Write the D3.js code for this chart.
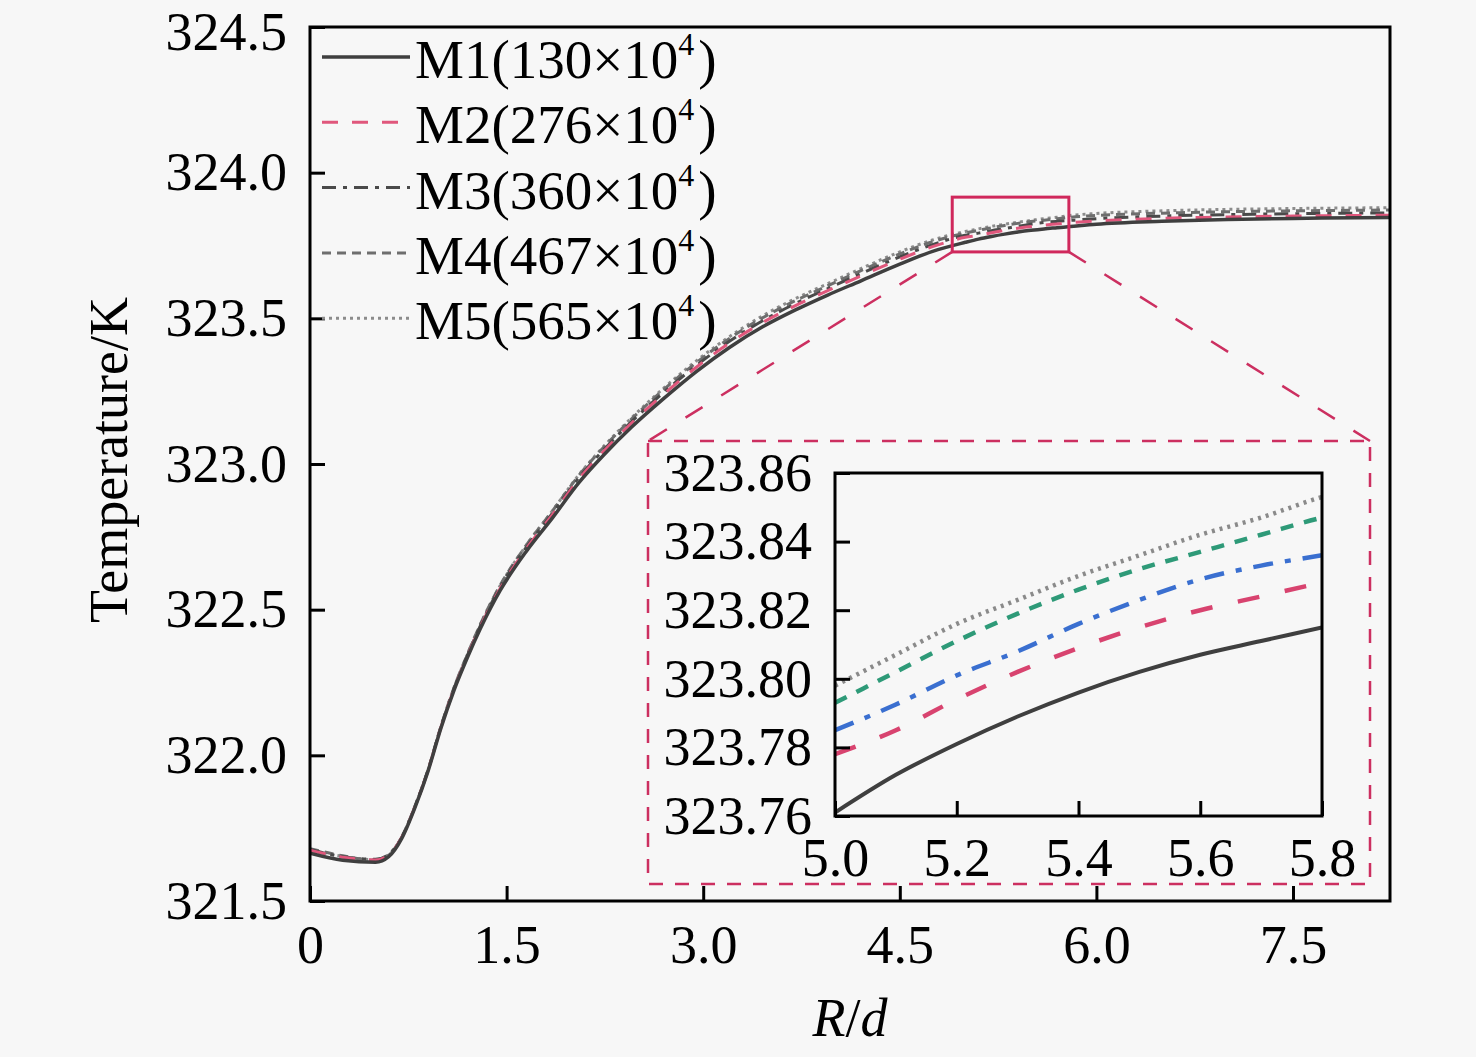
<!DOCTYPE html>
<html>
<head>
<meta charset="utf-8">
<script src="https://cdn.jsdelivr.net/npm/d3@7"></script>
<style>
  body { margin: 0; background: #f7f7f7; }
  svg { display: block; font-family: "Liberation Serif", "Times New Roman", serif; }
</style>
</head>
<body>
<div id="viz"></div>
<script>
// x positions (R/d) shared by every mesh
const rd = [0, 0.25, 0.5, 0.6, 0.7, 0.8, 0.9, 1.0, 1.1, 1.2, 1.3, 1.45, 1.65, 1.85, 2.05, 2.25, 2.45, 2.7, 2.95, 3.2,
  3.45, 3.7, 3.95, 4.2, 4.5, 4.75, 5.0, 5.1, 5.2, 5.3, 5.4, 5.5, 5.6, 5.7, 5.8, 6.0, 6.5, 7.0, 7.5, 8.0, 8.25];

// temperature (K) for each mesh
const m1 = [321.664, 321.640, 321.633, 321.652, 321.715, 321.820, 321.945, 322.095, 322.225, 322.335, 322.435, 322.565, 322.700, 322.815, 322.935, 323.035, 323.125, 323.225, 323.318, 323.400,
  323.470, 323.528, 323.580, 323.628, 323.686, 323.730, 323.761, 323.772, 323.781, 323.789, 323.796, 323.802, 323.807, 323.811, 323.815, 323.823, 323.833, 323.839, 323.843, 323.845, 323.846];
const m2 = [321.674, 321.650, 321.641, 321.658, 321.718, 321.822, 321.947, 322.097, 322.228, 322.339, 322.441, 322.572, 322.709, 322.826, 322.947, 323.048, 323.139, 323.240, 323.333, 323.415,
  323.485, 323.543, 323.595, 323.645, 323.703, 323.746, 323.778, 323.785, 323.794, 323.802, 323.809, 323.815, 323.820, 323.824, 323.828, 323.834, 323.843, 323.848, 323.851, 323.853, 323.854];
const m3 = [321.677, 321.652, 321.643, 321.660, 321.719, 321.823, 321.948, 322.099, 322.231, 322.342, 322.445, 322.577, 322.714, 322.831, 322.952, 323.053, 323.144, 323.246, 323.339, 323.421,
  323.491, 323.550, 323.602, 323.653, 323.711, 323.753, 323.785, 323.7925, 323.801, 323.808, 323.816, 323.823, 323.829, 323.833, 323.836, 323.842, 323.851, 323.856, 323.859, 323.861, 323.862];
const m4 = [321.680, 321.655, 321.640, 321.657, 321.720, 321.825, 321.950, 322.101, 322.234, 322.346, 322.450, 322.583, 322.721, 322.839, 322.960, 323.062, 323.153, 323.256, 323.349, 323.431,
  323.501, 323.560, 323.612, 323.663, 323.721, 323.763, 323.793, 323.802, 323.811, 323.819, 323.826, 323.832, 323.837, 323.842, 323.847, 323.853, 323.861, 323.866, 323.869, 323.871, 323.872];
const m5 = [321.676, 321.653, 321.642, 321.659, 321.719, 321.824, 321.949, 322.100, 322.233, 322.345, 322.449, 322.582, 322.721, 322.840, 322.962, 323.065, 323.157, 323.261, 323.355, 323.437,
  323.508, 323.567, 323.619, 323.670, 323.728, 323.769, 323.798, 323.807, 323.816, 323.823, 323.830, 323.836, 323.842, 323.847, 323.853, 323.860, 323.869, 323.874, 323.877, 323.879, 323.880];

const meshNames = ["M1", "M2", "M3", "M4", "M5"];
const meshCells = ["130", "276", "360", "467", "565"];

// tick labels
const xTicks = [0, 1.5, 3.0, 4.5, 6.0, 7.5];
const yTicks = [321.5, 322.0, 322.5, 323.0, 323.5, 324.0, 324.5];
const insetXTicks = [5.0, 5.2, 5.4, 5.6, 5.8];
const insetYTicks = [323.76, 323.78, 323.80, 323.82, 323.84, 323.86];

// line styles
const mainColor = ["#3f3f3f", "#e0577c", "#4a4a4a", "#6e6e6e", "#8c8c8c"];
const insetColor = ["#3f3f3f", "#d8436f", "#3a6fd0", "#2e9a78", "#8a8a8a"];
const mainDash = [null, "16,14", "14,7,4,7", "9,6", "3,4"];
const insetDash = [null, "22,26", "20,12,6,12", "13,11", "3,5"];
const widths = [3.5, 3, 3, 3, 3];

const series = [m1, m2, m3, m4, m5].map((vals, k) => ({
  name: meshNames[k],
  cells: meshCells[k],
  k: k,
  points: rd.map((x, i) => ({ x: x, y: vals[i] }))
}));

const W = 1476, H = 1057;
const svg = d3.select("#viz").append("svg")
  .attr("width", W).attr("height", H);
svg.append("rect").attr("width", W).attr("height", H).attr("fill", "#f7f7f7");

//main plot
const plot = { left: 310, right: 1390, top: 27, bottom: 901 };
const x = d3.scaleLinear().domain([0, 8.24]).range([plot.left, plot.right]);
const y = d3.scaleLinear().domain([321.5, 324.5]).range([plot.bottom, plot.top]);

svg.append("clipPath").attr("id", "mainClip")
  .append("rect")
  .attr("x", plot.left).attr("y", plot.top)
  .attr("width", plot.right - plot.left).attr("height", plot.bottom - plot.top);

const line = d3.line().x(d => x(d.x)).y(d => y(d.y)).curve(d3.curveMonotoneX);

// draw M5 first so M1 ends up on top
const mainLines = svg.append("g").attr("clip-path", "url(#mainClip)");
mainLines.selectAll("path")
  .data(series.slice().reverse())
  .enter().append("path")
  .attr("d", d => line(d.points))
  .attr("fill", "none")
  .attr("stroke", d => mainColor[d.k])
  .attr("stroke-width", d => widths[d.k])
  .attr("stroke-dasharray", d => mainDash[d.k]);

// axes with inward ticks
const fmt1 = d3.format(".1f");
const xAxis = svg.append("g")
  .attr("transform", `translate(0,${plot.bottom})`)
  .call(d3.axisBottom(x).tickValues(xTicks).tickSizeInner(-15).tickSizeOuter(0).tickPadding(24)
    .tickFormat(d => d === 0 ? "0" : fmt1(d)));
const yAxis = svg.append("g")
  .attr("transform", `translate(${plot.left},0)`)
  .call(d3.axisLeft(y).tickValues(yTicks).tickSizeInner(-15).tickSizeOuter(0).tickPadding(23)
    .tickFormat(fmt1));

[xAxis, yAxis].forEach(g => {
  g.select(".domain").remove();
  g.selectAll(".tick line").attr("stroke", "#000").attr("stroke-width", 3);
  g.selectAll(".tick text").attr("fill", "#000").attr("font-size", 54)
    .attr("font-family", "Liberation Serif, Times New Roman, serif");
});
// the top label sits right at the frame edge, nudge it down a touch
yAxis.selectAll(".tick text").filter(d => d === 324.5).attr("dy", "0.42em");

svg.append("rect")
  .attr("x", plot.left).attr("y", plot.top)
  .attr("width", plot.right - plot.left).attr("height", plot.bottom - plot.top)
  .attr("fill", "none").attr("stroke", "#000").attr("stroke-width", 3);

// axis titles
svg.append("text")
  .attr("transform", `translate(127,${(plot.top + plot.bottom) / 2 - 4}) rotate(-90)`)
  .attr("text-anchor", "middle")
  .attr("font-size", 54)
  .text("Temperature/K");

const xTitle = svg.append("text")
  .attr("x", (plot.left + plot.right) / 2).attr("y", 1036)
  .attr("text-anchor", "middle")
  .attr("font-size", 54);
xTitle.append("tspan").attr("font-style", "italic").text("R");
xTitle.append("tspan").text("/");
xTitle.append("tspan").attr("font-style", "italic").text("d");

// legend
const legend = svg.append("g");
const legendRow = legend.selectAll("g")
  .data(series)
  .enter().append("g")
  .attr("transform", (d, i) => `translate(322,${57 + i * 65.3})`);
legendRow.append("line")
  .attr("x1", 0).attr("x2", 88)
  .attr("stroke", d => mainColor[d.k])
  .attr("stroke-width", d => widths[d.k])
  .attr("stroke-dasharray", d => mainDash[d.k]);
const legendText = legendRow.append("text")
  .attr("x", 93).attr("y", 21)
  .attr("font-size", 55);
legendText.append("tspan").text(d => `${d.name}(${d.cells}×10`);
legendText.append("tspan").attr("font-size", 32).attr("dy", -23).text("4");
legendText.append("tspan").attr("dx", 4).attr("dy", 23).text(")");

// zoom window on the main plot
const zoomBox = { x0: 4.9, x1: 5.79, y0: 323.728, y1: 323.916 };
svg.append("rect")
  .attr("x", x(zoomBox.x0)).attr("y", y(zoomBox.y1))
  .attr("width", x(zoomBox.x1) - x(zoomBox.x0))
  .attr("height", y(zoomBox.y0) - y(zoomBox.y1))
  .attr("fill", "none").attr("stroke", "#d0285c").attr("stroke-width", 3);

// inset box
const box = { left: 648, right: 1370, top: 441, bottom: 884 };
const inset = { left: 835, right: 1322, top: 473, bottom: 816 };

svg.append("rect")
  .attr("x", box.left).attr("y", box.top)
  .attr("width", box.right - box.left).attr("height", box.bottom - box.top)
  .attr("fill", "#f7f7f7")
  .attr("stroke", "#cc2f60").attr("stroke-width", 2.5)
  .attr("stroke-dasharray", "14,12");

// connector lines
svg.append("line")
  .attr("x1", x(zoomBox.x0)).attr("y1", y(zoomBox.y0))
  .attr("x2", box.left).attr("y2", box.top)
  .attr("stroke", "#cc2f60").attr("stroke-width", 2.5).attr("stroke-dasharray", "20,22");
svg.append("line")
  .attr("x1", x(zoomBox.x1)).attr("y1", y(zoomBox.y0))
  .attr("x2", box.right).attr("y2", box.top)
  .attr("stroke", "#cc2f60").attr("stroke-width", 2.5).attr("stroke-dasharray", "20,22");

const ix = d3.scaleLinear().domain([5.0, 5.8]).range([inset.left, inset.right]);
const iy = d3.scaleLinear().domain([323.76, 323.86]).range([inset.bottom, inset.top]);

svg.append("clipPath").attr("id", "insetClip")
  .append("rect")
  .attr("x", inset.left).attr("y", inset.top)
  .attr("width", inset.right - inset.left).attr("height", inset.bottom - inset.top);

const insetLine = d3.line().x(d => ix(d.x)).y(d => iy(d.y)).curve(d3.curveMonotoneX);

svg.append("g").attr("clip-path", "url(#insetClip)")
  .selectAll("path")
  .data(series)
  .enter().append("path")
  .attr("d", d => insetLine(d.points.filter(p => p.x >= 4.9 && p.x <= 6.0)))
  .attr("fill", "none")
  .attr("stroke", d => insetColor[d.k])
  .attr("stroke-width", d => d.k === 0 ? 4 : 4.5)
  .attr("stroke-dasharray", d => insetDash[d.k]);

const ixAxis = svg.append("g")
  .attr("transform", `translate(0,${inset.bottom})`)
  .call(d3.axisBottom(ix).tickValues(insetXTicks).tickSizeInner(-15).tickSizeOuter(0).tickPadding(22)
    .tickFormat(d3.format(".1f")));
const iyAxis = svg.append("g")
  .attr("transform", `translate(${inset.left},0)`)
  .call(d3.axisLeft(iy).tickValues(insetYTicks).tickSizeInner(-15).tickSizeOuter(0).tickPadding(23)
    .tickFormat(d3.format(".2f")));

[ixAxis, iyAxis].forEach(g => {
  g.select(".domain").remove();
  g.selectAll(".tick line").attr("stroke", "#000").attr("stroke-width", 3);
  g.selectAll(".tick text").attr("fill", "#000").attr("font-size", 54)
    .attr("font-family", "Liberation Serif, Times New Roman, serif");
});

svg.append("rect")
  .attr("x", inset.left).attr("y", inset.top)
  .attr("width", inset.right - inset.left).attr("height", inset.bottom - inset.top)
  .attr("fill", "none").attr("stroke", "#000").attr("stroke-width", 3);
</script>
</body>
</html>
